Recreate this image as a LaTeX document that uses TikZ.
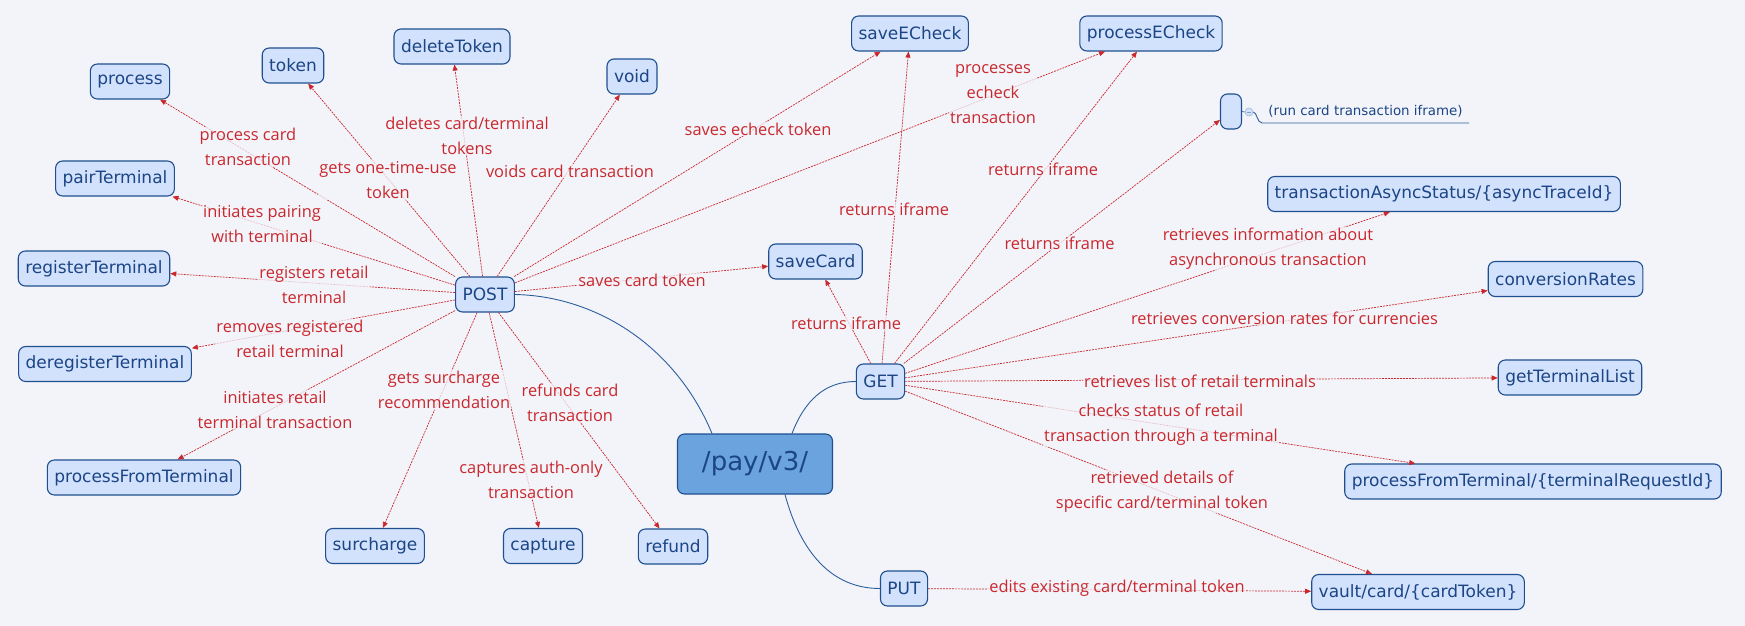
\documentclass[tikz,border=0pt]{standalone}
\usepackage{fontspec}
\setmainfont{DejaVu Sans}
\newfontfamily\notefont{Open Sans}
\usetikzlibrary{arrows.meta}
\definecolor{bgcol}{HTML}{F3F4FA}
\definecolor{nodefill}{HTML}{D3E2FC}
\definecolor{nodeline}{HTML}{1F4F8F}
\definecolor{nodetext}{HTML}{1B4585}
\definecolor{rootfill}{HTML}{6BA3DF}
\definecolor{linkred}{HTML}{C8282D}
\definecolor{branchblue}{HTML}{2D5E9C}

\begin{document}
\begin{tikzpicture}[
  x=1pt, y=-1pt,
  topic/.style={draw=nodeline, fill=nodefill, rounded corners=7pt, line width=1.1pt,
    minimum height=35pt, inner xsep=7pt, text=nodetext, font=\fontsize{17}{20}\selectfont},
  link/.style={draw=linkred, line width=0.7pt, dash pattern=on 2pt off 1pt,
    -{Triangle[length=6pt,width=5pt]}},
  note/.style={text=linkred, font=\notefont\fontsize{16.4}{25}\selectfont, align=center,
    fill=bgcol, fill opacity=0.75, text opacity=1, inner sep=1pt},
  branch/.style={draw=branchblue, line width=0.9pt}
]
  \fill[bgcol] (0,0) rectangle (1745,626);

  % root and methods
  \node[topic, fill=rootfill, minimum width=155pt, minimum height=60pt,
    font=\fontsize{26}{30}\selectfont] (root) at (755,464) {/pay/v3/};
  \node[topic] (post) at (485,294.5) {POST};
  \node[topic] (get)  at (880.5,381.5) {GET};
  \node[topic] (put)  at (904,588.5) {PUT};

  \draw[branch] (post.east) .. controls (595,296) and (675,345) .. ([xshift=-43pt]root.north);
  \draw[branch] ([xshift=37pt]root.north) .. controls (805,400) and (825,381.5) .. (get.west);
  \draw[branch] ([xshift=30pt]root.south) .. controls (800,550) and (830,588.5) .. (put.west);

  % POST endpoints
  \node[topic] (process)    at (130,81.5)  {process};
  \node[topic] (token)      at (293,65.5)  {token};
  \node[topic] (delTok)     at (452,46.5)  {deleteToken};
  \node[topic] (void)       at (632,76.5)  {void};
  \node[topic] (pair)       at (115,178.5) {pairTerminal};
  \node[topic] (register)   at (94,268.5)  {registerTerminal};
  \node[topic] (deregister) at (105,364)   {deregisterTerminal};
  \node[topic] (procTerm)   at (144,477.5) {processFromTerminal};
  \node[topic] (surcharge)  at (375,546)   {surcharge};
  \node[topic] (capture)    at (543,546)   {capture};
  \node[topic] (refund)     at (673,546.5) {refund};
  \node[topic] (saveEC)     at (910,33.5)  {saveECheck};
  \node[topic] (procEC)     at (1151,33.5) {processECheck};
  \node[topic] (saveCard)   at (815.5,261.5) {saveCard};

  % GET / PUT endpoints
  \node[topic, minimum width=21pt, inner xsep=0pt] (iframe) at (1231,111.5) {};
  \node[topic] (asyncStat)   at (1444,194)   {transactionAsyncStatus/\{asyncTraceId\}};
  \node[topic] (convRates)   at (1565.5,279) {conversionRates};
  \node[topic] (termList)    at (1570,377.5) {getTerminalList};
  \node[topic] (procTermReq) at (1533,481.5) {processFromTerminal/\{terminalRequestId\}};
  \node[topic] (vault)       at (1418,592)   {vault/card/\{cardToken\}};

  % callout on the empty topic
  \node[circle, draw=branchblue!45, fill=nodefill, line width=0.6pt, inner sep=0pt,
    minimum size=8pt] (fold) at (1249,112) {};
  \draw[branchblue!60, line width=0.6pt] ([xshift=-2pt]fold.center) -- ([xshift=2pt]fold.center);
  \draw[branch, line width=0.6pt] (iframe.east) -- (fold.west);
  \coordinate (calloutL) at (1262,123);
  \coordinate (calloutR) at (1469,123);
  \draw[branch] (fold.east) .. controls (1257,112) and (1257,123) .. (calloutL) -- (calloutR);
  \node[text=nodetext, font=\fontsize{13.4}{16}\selectfont] (runNote) at (1365.5,111)
    {(run card transaction iframe)};

  \foreach \t in {process,token,delTok,void,pair,register,deregister,procTerm,
                  surcharge,capture,refund,saveEC,procEC,saveCard}
    \draw[link] (post) -- (\t);
  \foreach \t in {saveCard,saveEC,procEC,iframe,asyncStat,convRates,termList,
                  procTermReq,vault}
    \draw[link] (get) -- (\t);
  \draw[link] (put) -- (vault);

  % labels
  \node[note] (lProcess)   at (248,147)   {process card\\transaction};
  \node[note] (lToken)     at (388,180)   {gets one-time-use\\token};
  \node[note] (lDelTok)    at (467,135.5) {deletes card/terminal\\tokens};
  \node[note] (lVoid)      at (570,171)   {voids card transaction};
  \node[note] (lPair)      at (262,224)   {initiates pairing\\with terminal};
  \node[note] (lRegister)  at (314,285)   {registers retail\\terminal};
  \node[note] (lDereg)     at (290,338.5) {removes registered\\retail terminal};
  \node[note] (lProcTerm)  at (275,409.5) {initiates retail\\terminal transaction};
  \node[note] (lSurcharge) at (444,390)   {gets surcharge\\recommendation};
  \node[note] (lCapture)   at (531,479.5) {captures auth-only\\transaction};
  \node[note] (lRefund)    at (570,403)   {refunds card\\transaction};
  \node[note] (lSaveEC)    at (758,129)   {saves echeck token};
  \node[note] (lProcEC)    at (993,94)    {processes\\echeck\\transaction};
  \node[note] (lSaveCard)  at (642,280)   {saves card token};
  \node[note] (lGetCard)   at (846,323)   {returns iframe};
  \node[note] (lGetSaveEC) at (894,209)   {returns iframe};
  \node[note] (lGetProcEC) at (1043,169)  {returns iframe};
  \node[note] (lGetFrame)  at (1059.5,243) {returns iframe};
  \node[note] (lAsync)     at (1268,248.5) {retrieves information about\\asynchronous transaction};
  \node[note] (lConv)      at (1284.5,318) {retrieves conversion rates for currencies};
  \node[note] (lList)      at (1200,381)  {retrieves list of retail terminals};
  \node[note] (lProcReq)   at (1161,425)  {checks status of retail\\transaction through a terminal};
  \node[note] (lVault)     at (1162,491.5) {retrieved details of\\specific card/terminal token};
  \node[note] (lPut)       at (1117,588.7) {edits existing card/terminal token};
\end{tikzpicture}
\end{document}
